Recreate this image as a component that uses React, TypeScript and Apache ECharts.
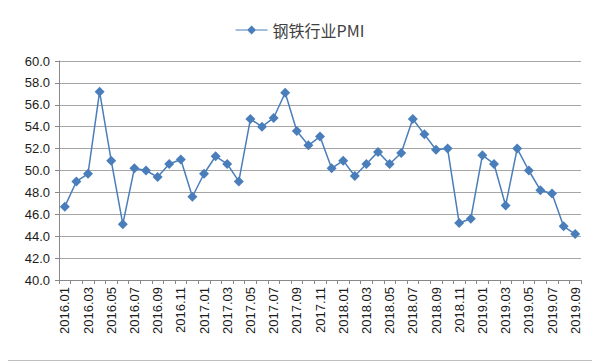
import React, { useEffect, useRef } from "react";
import * as echarts from "echarts";

const categories: string[] = [
  "2016.01","2016.02","2016.03","2016.04","2016.05","2016.06","2016.07","2016.08","2016.09","2016.10","2016.11","2016.12",
  "2017.01","2017.02","2017.03","2017.04","2017.05","2017.06","2017.07","2017.08","2017.09","2017.10","2017.11","2017.12",
  "2018.01","2018.02","2018.03","2018.04","2018.05","2018.06","2018.07","2018.08","2018.09","2018.10","2018.11","2018.12",
  "2019.01","2019.02","2019.03","2019.04","2019.05","2019.06","2019.07","2019.08","2019.09",
];

const pmiValues: number[] = [
  46.7, 49.0, 49.7, 57.2, 50.9, 45.1, 50.2, 50.0, 49.4, 50.6, 51.0, 47.6,
  49.7, 51.3, 50.6, 49.0, 54.7, 54.0, 54.8, 57.1, 53.6, 52.3, 53.1, 50.2,
  50.9, 49.5, 50.6, 51.7, 50.6, 51.6, 54.7, 53.3, 51.9, 52.0, 45.2, 45.6,
  51.4, 50.6, 46.8, 52.0, 50.0, 48.2, 47.9, 44.9, 44.2,
];

const seriesName = "钢铁行业PMI";

export default function App() {
  const ref = useRef<HTMLDivElement>(null);
  useEffect(() => {
    if (!ref.current) return;
    const chart = echarts.init(ref.current, null, { renderer: "svg" });
    chart.setOption({
      animation: false,
      backgroundColor: "#ffffff",
      textStyle: { fontFamily: "Liberation Sans, Arial, sans-serif" },
      graphic: [
        {
          type: "rect",
          shape: { x: 1.5, y: 1.5, width: 594, height: 359 },
          style: { fill: "none", stroke: "#bfbfbf", lineWidth: 1 },
          silent: true,
        },
      ],
      legend: {
        top: 17,
        left: "center",
        itemWidth: 32,
        itemHeight: 9,
        itemGap: 5,
        textStyle: { fontSize: 16, color: "#404040", fontFamily: "Noto Sans CJK SC, sans-serif" },
        data: [{ name: seriesName, icon: "path://M0,4 L12,4 L16,0 L20,4 L32,4 L32,5 L20,5 L16,9 L12,5 L0,5 Z" }],
      },
      grid: { left: 59, right: 19, top: 61, bottom: 83, containLabel: false },
      xAxis: {
        type: "category",
        data: categories,
        boundaryGap: true,
        axisLine: { show: true, lineStyle: { color: "#888888", width: 1 } },
        axisTick: { show: true, interval: 0, length: 4, alignWithLabel: false, lineStyle: { color: "#888888" } },
        axisLabel: {
          interval: 1,
          rotate: 90,
          fontSize: 13,
          color: "#1a1a1a",
          margin: 7,
        },
      },
      yAxis: {
        type: "value",
        min: 40,
        max: 60,
        interval: 2,
        axisLine: { show: true, lineStyle: { color: "#888888" } },
        axisTick: { show: true, length: 4, inside: false, lineStyle: { color: "#888888" } },
        axisLabel: {
          fontSize: 13,
          color: "#1a1a1a",
          margin: 9,
          formatter: (v: number) => v.toFixed(1),
        },
        splitLine: { show: true, lineStyle: { color: "#a6a6a6", width: 1 } },
      },
      series: [
        {
          name: seriesName,
          type: "line",
          data: pmiValues,
          symbol: "diamond",
          symbolSize: 10,
          showAllSymbol: true,
          itemStyle: { color: "#4a7ebb" },
          lineStyle: { color: "#4a7ebb", width: 1.5 },
        },
      ],
    });
    return () => chart.dispose();
  }, []);
  return <div ref={ref} style={{ width: 600, height: 363, marginLeft: -8, marginTop: -8 }} />;
}
